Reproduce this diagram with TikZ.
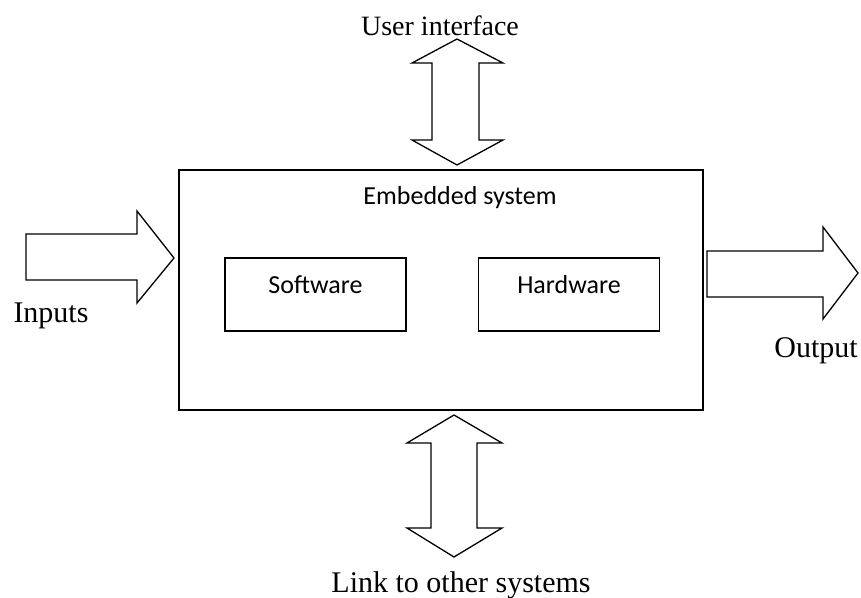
\documentclass[tikz,border=0pt]{standalone}
\usepackage{fontspec}
\setmainfont{Liberation Serif}
\newfontfamily\boxfont{Carlito}
\begin{document}
\begin{tikzpicture}[x=1pt,y=-1pt,line width=1.3pt,
    block/.style={draw,inner sep=0pt,font=\boxfont\fontsize{26}{30}\selectfont},
    part/.style={block,minimum width=181pt,minimum height=73pt,text height=19pt,text depth=22pt},
    tag/.style={anchor=base,inner sep=0pt,font=\fontsize{30}{34}\selectfont}]
    \useasboundingbox (0,0) rectangle (861,597);
    % system box with its two parts
    \node[block,minimum width=524pt,minimum height=240pt] (sys) at (441,290) {};
    \node[block,anchor=base,draw=none] (title) at (460,204) {Embedded system};
    \node[part] (sw) at (315.5,294.5) {Software};
    \node[part] (hw) at (569,294.5) {Hardware};
    % block arrows
    \draw (26,234) -- (137,234) -- (137,211) -- (174,258) -- (137,303) -- (137,280) -- (26,280) -- cycle;
    \draw (707,251) -- (823,251) -- (823,227) -- (858,273) -- (823,319) -- (823,297) -- (707,297) -- cycle;
    \draw (457,39) -- (503,63) -- (479,63) -- (479,140) -- (503,140) -- (457,165)
        -- (412,140) -- (432,140) -- (432,63) -- (412,63) -- cycle;
    \draw (454,415) -- (502,443) -- (477,443) -- (477,528) -- (502,528) -- (454,557)
        -- (407,528) -- (431,528) -- (431,443) -- (407,443) -- cycle;
    % outside labels
    \node[tag,font=\fontsize{28}{32}\selectfont] (ui) at (440,35) {User interface};
    \node[tag] (in) at (51,322) {Inputs};
    \node[tag] (out) at (816,357) {Output};
    \node[tag] (link) at (461,592) {Link to other systems};
\end{tikzpicture}
\end{document}
